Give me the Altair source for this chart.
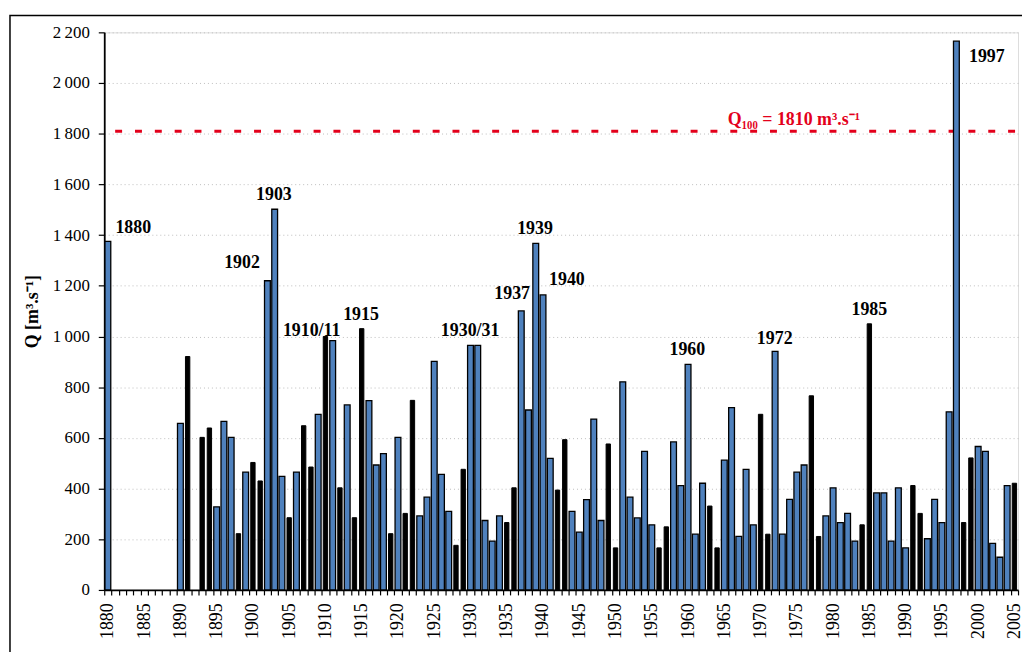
import altair as alt
import pandas as pd

# ---------------- data ----------------
YEARS = [1880, 1890, 1891, 1893, 1894, 1895, 1896, 1897, 1898, 1899,
         1900, 1901, 1902, 1903, 1904, 1905, 1906, 1907, 1908, 1909,
         1910, 1911, 1912, 1913, 1914, 1915, 1916, 1917, 1918, 1919,
         1920, 1921, 1922, 1923, 1924, 1925, 1926, 1927, 1928, 1929,
         1930, 1931, 1932, 1933, 1934, 1935, 1936, 1937, 1938, 1939,
         1940, 1941, 1942, 1943, 1944, 1945, 1946, 1947, 1948, 1949,
         1950, 1951, 1952, 1953, 1954, 1955, 1956, 1957, 1958, 1959,
         1960, 1961, 1962, 1963, 1964, 1965, 1966, 1967, 1968, 1969,
         1970, 1971, 1972, 1973, 1974, 1975, 1976, 1977, 1978, 1979,
         1980, 1981, 1982, 1983, 1984, 1985, 1986, 1987, 1988, 1989,
         1990, 1991, 1992, 1993, 1994, 1995, 1996, 1997, 1998, 1999,
         2000, 2001, 2002, 2003, 2004, 2005]
Q = [1375, 657, 921, 602, 639, 328, 665, 602, 222, 465,
     503, 430, 1220, 1502, 448, 285, 465, 648, 485, 693,
     1000, 984, 403, 730, 285, 1031, 747, 493, 538, 222,
     602, 302, 748, 292, 366, 902, 456, 310, 176, 476,
     965, 965, 274, 193, 292, 266, 403, 1101, 710, 1367,
     1164, 519, 394, 593, 310, 228, 356, 674, 274, 576,
     166, 821, 366, 284, 547, 257, 166, 249, 584, 412,
     890, 220, 421, 331, 166, 512, 719, 211, 476, 257,
     693, 220, 941, 220, 357, 465, 493, 766, 211, 292,
     403, 266, 302, 193, 257, 1050, 383, 383, 193, 403,
     166, 412, 302, 202, 357, 266, 703, 2165, 266, 521,
     566, 547, 184, 129, 412, 421]

ALL_YEARS = list(range(1880, 2006))          # category axis

LABEL_TEXT = ["1880", "1902", "1903", "1910/11", "1915", "1930/31", "1937",
              "1939", "1940", "1960", "1972", "1985", "1997"]
LABEL_YEAR = [1883.5, 1898.5, 1902.9, 1908.1, 1914.9, 1929.95, 1935.75,
              1938.9, 1943.3, 1959.9, 1971.95, 1985.0, 2001.2]
LABEL_Q = [1408, 1272, 1537, 1002, 1066, 1002, 1148, 1403, 1204, 926, 972, 1083, 2084]

Q100 = 1810
Q100_TEXT = "Q\u2081\u2080\u2080 = 1810 m\u00b3.s\u207b\u00b9"
Q100_TEXT_YEAR = 1974.6
Q100_TEXT_Q = 1836

# ---------------- style ----------------
# bars that appear solid black in the reference picture
DARK_YEARS = [1891, 1893, 1894, 1898, 1900, 1901, 1905, 1907, 1908, 1910,
              1912, 1914, 1915, 1919, 1921, 1922, 1928, 1929, 1935, 1936,
              1942, 1943, 1949, 1950, 1956, 1957, 1963, 1964, 1970, 1971,
              1977, 1978, 1984, 1985, 1991, 1992, 1998, 1999, 2005]

FONT = "Liberation Serif"
BLUE = "#4F81BD"
RED = "#E3001B"
W, H = 921, 562

df = pd.DataFrame({"year": YEARS, "q": Q})
df["dark"] = df["year"].isin(DARK_YEARS)
labels = pd.DataFrame({"text": LABEL_TEXT, "year": LABEL_YEAR, "q": LABEL_Q})
qlab = pd.DataFrame({"text": [Q100_TEXT], "year": [Q100_TEXT_YEAR], "q": [Q100_TEXT_Q]})

y_label_expr = ("datum.value >= 1000 ? floor(datum.value/1000) + '\u2009' + "
                "format(datum.value % 1000, '03d') : datum.label")

band_scale = alt.Scale(domain=ALL_YEARS, paddingInner=0, paddingOuter=0)
x_band = alt.X(
    "year:O",
    scale=band_scale,
    axis=alt.Axis(
        title=None,
        labelExpr="datum.value % 5 == 0 ? '' + datum.value : ''",
        labelAngle=270, labelOverlap=False, labelFont=FONT, labelFontSize=18,
        labelColor="black", labelPadding=8, tickBand="extent", tickSize=5,
        tickColor="black", tickWidth=1.2, domainColor="black", domainWidth=1.8,
        grid=False,
    ),
)
x_band_plain = alt.X("year:O", scale=band_scale, axis=None)

y_q = alt.Y(
    "q:Q",
    scale=alt.Scale(domain=[0, 2200], nice=False),
    axis=alt.Axis(
        values=list(range(0, 2201, 200)), labelExpr=y_label_expr,
        title="Q [m\u00b3.s\u207b\u00b9]", titleFont=FONT, titleFontSize=18,
        titleFontWeight="bold", titleColor="black", titlePadding=11,
        labelFont=FONT, labelFontSize=17, labelColor="black", labelPadding=9,
        tickSize=6, tickColor="black", tickWidth=1.2,
        domainColor="black", domainWidth=1.8,
        grid=True, gridColor="#BDBDBD", gridDash=[1, 3], gridWidth=1,
    ),
)

base = alt.Chart(df)

rule = alt.Chart(pd.DataFrame({"q": [Q100]})).mark_rule(
    color=RED, strokeDash=[7, 13], strokeWidth=3, strokeDashOffset=-3
).encode(y=alt.Y("q:Q"))

blue_bars = base.transform_filter("!datum.dark").mark_bar(
    fill=BLUE, stroke="black", strokeWidth=1.3, width=alt.RelativeBandSize(0.8)
).encode(x=x_band, y=y_q)

dark_bars = base.transform_filter("datum.dark").mark_bar(
    fill="black", stroke="black", strokeWidth=1, width=alt.RelativeBandSize(0.6)
).encode(x=x_band_plain, y=y_q)

x_lin = alt.X("year:Q", scale=alt.Scale(domain=[1879.5, 2005.5], nice=False, zero=False), axis=None)

year_text = alt.Chart(labels).mark_text(
    font=FONT, fontSize=18, fontWeight="bold", color="black",
    align="center", baseline="alphabetic"
).encode(x=x_lin, y=alt.Y("q:Q"), text="text:N")

q_text = alt.Chart(qlab).mark_text(
    font=FONT, fontSize=18, fontWeight="bold", color=RED,
    align="center", baseline="alphabetic"
).encode(x=x_lin, y=alt.Y("q:Q"), text="text:N")

frame = alt.Chart(pd.DataFrame({"a": [0]})).mark_rect(
    filled=False, stroke="black", strokeWidth=1.5
).encode(x=alt.value(-95), x2=alt.value(1040), y=alt.value(-17), y2=alt.value(700))

chart = alt.layer(
    rule, blue_bars, dark_bars, year_text, q_text, frame
).resolve_scale(x="independent").properties(
    width=W, height=H,
    autosize=alt.AutoSizeParams(type="none"),
    padding={"left": 97, "top": 22, "right": 4, "bottom": 60},
).configure_view(
    stroke="#A6A6A6", strokeWidth=2
).configure(background="white")

chart.save("out.html", embed_options={"renderer": "svg", "actions": False})
